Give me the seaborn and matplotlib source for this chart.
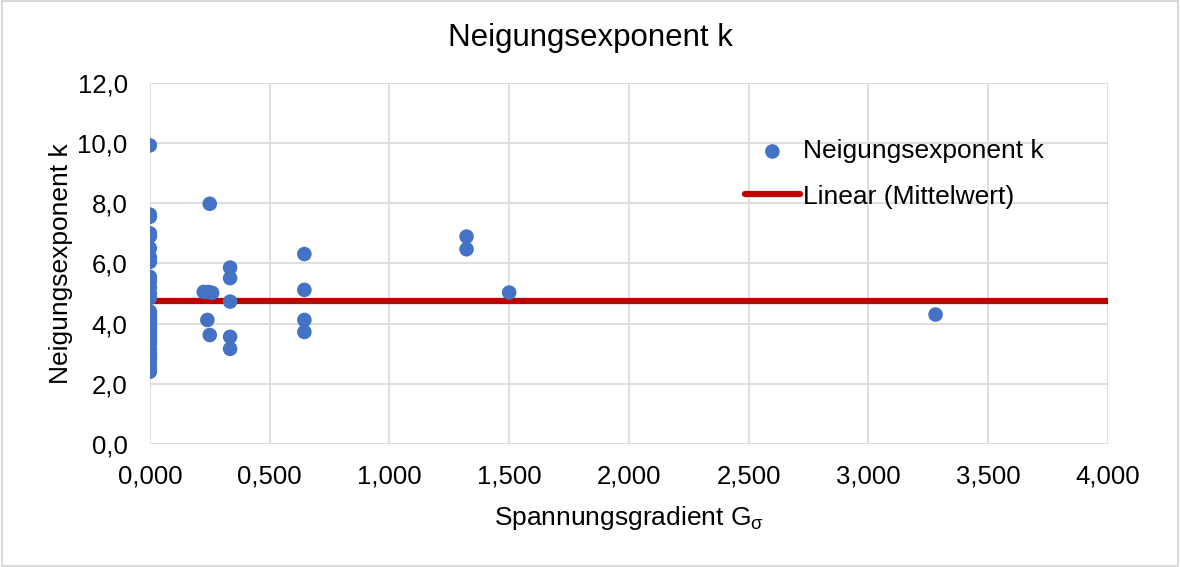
import seaborn as sns
import matplotlib.pyplot as plt
import matplotlib.ticker as mticker
import pandas as pd

# Spannungsgradient G_sigma / Neigungsexponent k
g_sigma = ([0.0] * 32 +
           [0.25, 0.225, 0.245, 0.26, 0.24, 0.25] +
           [0.335, 0.335, 0.335, 0.335, 0.335] +
           [0.645, 0.645, 0.645, 0.645] +
           [1.322, 1.322, 1.50, 3.28])
k_vals = ([9.92, 7.62, 7.55, 7.0, 6.9, 6.5, 6.2, 6.05, 5.55, 5.4, 5.2, 5.0,
           4.85, 4.4, 4.3, 4.2, 4.1, 4.0, 3.9, 3.8, 3.7, 3.6, 3.5, 3.4, 3.3,
           3.15, 3.0, 2.9, 2.8, 2.65, 2.5, 2.4] +
          [7.98, 5.05, 5.05, 5.02, 4.12, 3.62] +
          [5.86, 5.51, 4.73, 3.56, 3.16] +
          [6.31, 5.12, 4.12, 3.72] +
          [6.89, 6.47, 5.03, 4.30])

mittel_x = [0.0, 4.0]
mittel_k = [4.76, 4.76]

df = pd.DataFrame({'g': g_sigma, 'k': k_vals})
dfMean = pd.DataFrame({'g': mittel_x, 'k': mittel_k})

sns.set_style('white')
plt.rcParams['font.family'] = ['Liberation Sans', 'DejaVu Sans']
plt.rcParams['text.color'] = 'black'
plt.rcParams['axes.labelcolor'] = 'black'
plt.rcParams['mathtext.fontset'] = 'custom'
plt.rcParams['mathtext.rm'] = 'Liberation Sans'
plt.rcParams['mathtext.it'] = 'Liberation Sans'

fig = plt.figure(figsize=(11.8, 5.67), dpi=100)
ax = fig.add_axes([0.127, 0.217, 0.812, 0.637])

sns.lineplot(x='g', y='k', data=dfMean, ax=ax, color='#C00000', lw=4.5,
             label='Linear (Mittelwert)', zorder=2)
sns.scatterplot(x='g', y='k', data=df, ax=ax, color='#4472C4', s=110,
                edgecolor='none', label='Neigungsexponent k', zorder=3)

ax.set_xlim(0, 4)
ax.set_ylim(0, 12)
ax.xaxis.set_major_locator(mticker.MultipleLocator(0.5))
ax.yaxis.set_major_locator(mticker.MultipleLocator(2))
ax.xaxis.set_major_formatter(mticker.FuncFormatter(lambda v, p: f'{v:.3f}'.replace('.', ',')))
ax.yaxis.set_major_formatter(mticker.FuncFormatter(lambda v, p: f'{v:.1f}'.replace('.', ',')))
ax.grid(True, color='#D9D9D9', lw=1.2)
ax.set_axisbelow(True)
for s in ax.spines.values():
    s.set_visible(False)
ax.tick_params(axis='both', length=0, labelsize=18.5, colors='#000000')
ax.tick_params(axis='x', pad=15)
ax.tick_params(axis='y', pad=16)

fig.text(0.5, 1 - 38 / 567, 'Neigungsexponent k', fontsize=22.5, ha='center', va='center')
ax.set_xlabel('Spannungsgradient G$_{\\mathrm{\\sigma}}$', fontsize=19, labelpad=11)
ax.set_ylabel('Neigungsexponent k', fontsize=19, labelpad=3)

h, l = ax.get_legend_handles_labels()
ax.legend(h[::-1], l[::-1], loc='upper left', bbox_to_anchor=(0.596, 0.909),
          frameon=False, fontsize=19, handlelength=2.1, handletextpad=0.1,
          labelspacing=0.8, markerscale=1.0)

fig.patches.append(plt.Rectangle((0.002, 0.002), 0.996, 0.996, transform=fig.transFigure,
                                 fill=False, edgecolor='#D9D9D9', lw=1.5))

plt.savefig('out.png', dpi=100)
